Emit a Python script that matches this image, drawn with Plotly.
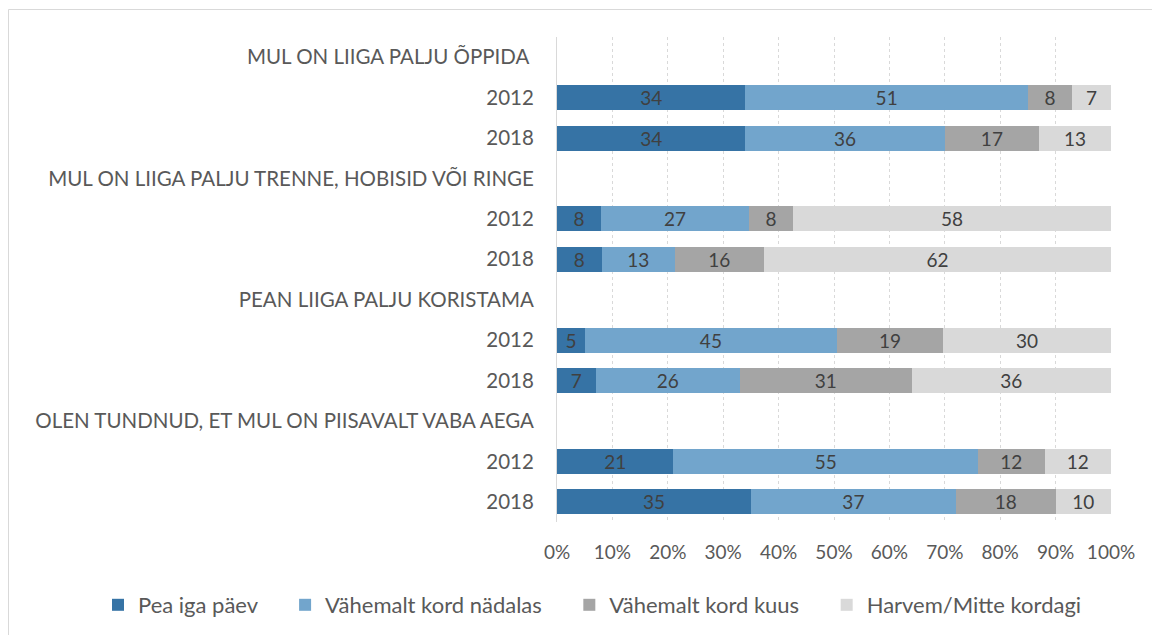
import plotly.graph_objects as go

# Row labels (topic headers followed by survey years), top to bottom
row_labels = [
    "MUL ON LIIGA PALJU ÕPPIDA\u00a0",
    "2012",
    "2018",
    "MUL ON LIIGA PALJU TRENNE, HOBISID VÕI RINGE",
    "2012",
    "2018",
    "PEAN LIIGA PALJU KORISTAMA",
    "2012",
    "2018",
    "OLEN TUNDNUD, ET MUL ON PIISAVALT VABA AEGA",
    "2012",
    "2018",
]

series_names = ["Pea iga päev", "Vähemalt kord nädalas", "Vähemalt kord kuus", "Harvem/Mitte kordagi"]

# Shares (%) per row; header rows carry no bar
pea_iga_paev = [None, 34, 34, None, 8, 8, None, 5, 7, None, 21, 35]
vahemalt_nadalas = [None, 51, 36, None, 27, 13, None, 45, 26, None, 55, 37]
vahemalt_kuus = [None, 8, 17, None, 8, 16, None, 19, 31, None, 12, 18]
harvem = [None, 7, 13, None, 58, 62, None, 30, 36, None, 12, 10]

series_values = [pea_iga_paev, vahemalt_nadalas, vahemalt_kuus, harvem]
colors = ["#3673A5", "#72A5CC", "#A5A5A5", "#D9D9D9"]

x_ticks = list(range(0, 101, 10))

FONT = "Lato"
TXT = "#595959"
GAP = "\u00a0" * 4  # extra room after each legend entry

rows = list(range(len(row_labels)))

fig = go.Figure()
for name, vals, col in zip(series_names, series_values, colors):
    fig.add_trace(go.Bar(
        y=rows,
        x=vals,
        name=name + GAP,
        orientation="h",
        marker=dict(color=col, line=dict(width=0)),
        text=["" if v is None else str(v) for v in vals],
        textposition="inside",
        insidetextanchor="middle",
        textangle=0,
        textfont=dict(family=FONT, size=19, color="#404040"),
        hoverinfo="skip",
    ))

W, H = 1152, 635
L, R, T, B = 557, 41, 37, 113
pw, ph = W - L - R, H - T - B

def px_x(x):
    return (x - L) / pw

def px_y(y):
    return (H - B - y) / ph

fig.update_layout(
    width=W,
    height=H,
    barmode="stack",
    barnorm="percent",
    bargap=0.38,
    margin=dict(l=L, r=R, t=T, b=B, pad=0, autoexpand=False),
    paper_bgcolor="white",
    plot_bgcolor="white",
    font=dict(family=FONT, size=19, color=TXT),
    uniformtext=dict(minsize=19, mode="show"),
    showlegend=True,
    legend=dict(
        orientation="h",
        x=px_x(98),
        xanchor="left",
        y=px_y(605),
        yanchor="middle",
        font=dict(family=FONT, size=22, color=TXT),
        itemwidth=30,
        traceorder="normal",
    ),
    xaxis=dict(
        range=[0, 100],
        tickvals=x_ticks,
        ticktext=[f"{t}%" for t in x_ticks],
        tickfont=dict(size=19),
        showgrid=True,
        gridcolor="#D9D9D9",
        griddash="dot",
        gridwidth=1,
        zeroline=False,
        showline=False,
        ticks="",
        ticklabelstandoff=17,
        fixedrange=True,
    ),
    yaxis=dict(
        tickvals=rows,
        ticktext=row_labels,
        tickfont=dict(size=20.5),
        range=[len(rows) - 0.5, -0.5],
        showgrid=False,
        zeroline=False,
        showline=True,
        linecolor="#D9D9D9",
        linewidth=1,
        ticks="",
        ticklabelstandoff=18,
        fixedrange=True,
    ),
    shapes=[
        dict(
            type="rect", xref="paper", yref="paper",
            x0=px_x(8.5), x1=px_x(1170), y0=px_y(650), y1=px_y(9.5),
            line=dict(color="#D9D9D9", width=1),
            fillcolor="rgba(0,0,0,0)",
            layer="below",
        )
    ],
)

fig.write_html("out.html")
